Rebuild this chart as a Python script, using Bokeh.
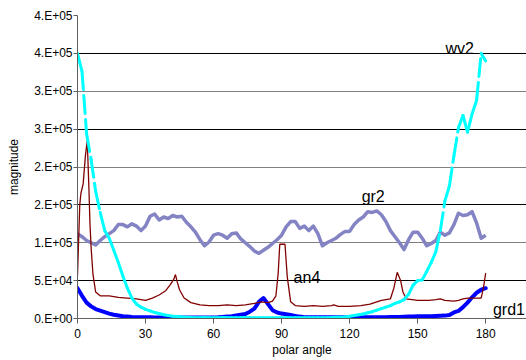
from bokeh.plotting import figure
from bokeh.models import Range1d, FixedTicker, Grid
from bokeh.core.properties import value
from bokeh.embed import file_html
from bokeh.resources import INLINE

# ---------------- data (values in thousands) ----------------
ANGLES = list(range(0, 181, 2))

WV2 = [350, 326, 244, 210, 168, 140, 116, 106, 90, 74,
       56, 40, 27, 19, 15, 12, 10, 8, 6.5, 5,
       4, 3, 2.5, 2, 1.5, 1.2, 1, 1, 1.2, 1,
       1, 1, 1.2, 1, 1, 1, 1, 1.2, 1, 1,
       1, 1, 1, 1, 1, 1, 1, 1, 1, 1,
       1, 1, 1, 1, 1, 1, 1.2, 1.5, 1.5, 2,
       3, 4, 5, 6, 7.5, 9, 11, 13, 15, 17,
       20, 22, 25, 32, 44, 50, 51, 62, 74, 88,
       116, 155, 175, 215, 252, 268, 246, 270, 288, 350,
       340]

GRD1 = [40, 30, 21, 16, 12.5, 10.5, 8.5, 6.5, 5, 4,
        3, 2.5, 2, 1.8, 1.7, 1.5, 1.5, 1.3, 1.3, 1.2,
        1.2, 1.2, 1.2, 1.2, 1.2, 1.2, 1.2, 1.2, 1.2, 1.2,
        1.3, 1.5, 2, 2.5, 3, 4, 5, 6, 9, 13,
        22, 27, 19, 11, 8, 6.5, 5.5, 4.5, 3.5, 2.5,
        1.8, 1.6, 1.5, 1.5, 1.5, 1.5, 1.5, 1.5, 1.5, 1.5,
        1.5, 1.5, 1.5, 1.5, 1.5, 1.5, 1.5, 1.5, 1.8, 2,
        2, 2, 2.2, 2.5, 2.5, 3, 3, 3, 3, 3.2,
        3.5, 3.8, 4.5, 8, 10, 15, 21, 28, 34, 38,
        40]

GR2 = [112, 108, 103, 100, 97, 103, 108, 112, 116, 124,
       124, 121, 125, 122, 116, 122, 135, 138, 130, 134,
       132, 136, 134, 135, 127, 121, 114, 104, 96, 101,
       110, 112, 110, 106, 112, 113, 105, 100, 95, 89,
       86, 90, 94, 99, 104, 110, 121, 128, 128, 119,
       122, 116, 122, 112, 96, 100, 103, 106, 111, 115,
       115, 124, 130, 134, 141, 140, 142, 137, 128, 116,
       108, 100, 91, 104, 114, 114, 106, 96, 99, 103,
       114, 110, 113, 124, 139, 136, 137, 141, 126, 106,
       110]

AN4_ANGLES = [0, 1, 1.5, 2.5, 3.5, 4.3, 5, 5.5, 6, 6.8, 8, 10, 14, 18, 22, 26, 30,
              33, 36, 39, 41, 42.5, 43.2, 44, 45, 47, 50, 54, 58, 62, 66, 70, 74,
              78, 81, 84, 86, 87.5, 88.5, 89.2, 91.5, 92.5, 94, 96, 100, 104, 108,
              112, 113, 115, 120, 125, 129, 134, 138, 139.5, 141, 142.5, 143.5, 145,
              150, 155, 158, 160, 162, 166, 168, 170, 172, 178, 179, 180]
AN4 = [57, 150, 165, 178, 215, 235, 175, 125, 94, 59, 35, 30, 30, 28, 27, 26, 24,
       27, 31, 37, 45, 52, 58, 48, 38, 27, 21, 18, 17, 17, 18, 17, 18,
       20, 22, 21, 23, 30, 60, 98, 98, 55, 22, 17, 16, 17, 16,
       17, 18, 16, 16, 17, 19, 24, 26, 40, 61, 50, 35, 26,
       24, 24, 25, 26, 24, 23, 24, 26, 27, 27, 40, 60]

SERIES_NAMES = ["wv2", "gr2", "an4", "grd1"]
LABEL_X = [162.3, 125.3, 95.3, 183.2]
LABEL_Y = [356, 161, 54, 12]   # thousands

X_TICKS = [0, 30, 60, 90, 120, 150, 180]
Y_TICKS = [0, 50000, 100000, 150000, 200000, 250000, 300000, 350000, 400000]
Y_TICK_LABELS = ["0.E+00", "5.E+04", "1.E+05", "2.E+05", "2.E+05",
                 "3.E+05", "3.E+05", "4.E+05", "4.E+05"]

K = 1000
FONT = "Liberation Sans"

p = figure(width=526, height=360, x_range=Range1d(0, 198), y_range=Range1d(0, 400000),
           output_backend="svg", toolbar_location=None,
           min_border_left=77, min_border_right=0, min_border_top=15, min_border_bottom=42)
p.outline_line_color = None
p.background_fill_color = "white"
p.border_fill_color = "white"
p.xgrid.visible = False
p.ygrid.visible = False

g_black = Grid(dimension=1, ticker=FixedTicker(ticks=Y_TICKS[1::2]),
               grid_line_color="black", grid_line_width=1)
g_gray = Grid(dimension=1, ticker=FixedTicker(ticks=Y_TICKS[2::2]),
              grid_line_color="#808080", grid_line_width=1)
p.add_layout(g_black)
p.add_layout(g_gray)

# series
p.line(ANGLES, [v * K for v in GR2], line_color="#8484c4", line_width=3.5,
       line_join="round")
p.line(ANGLES, [v * K for v in GRD1], line_color="#0000ff", line_width=4, line_join="round",
       line_cap="round")
p.line(AN4_ANGLES, [v * K for v in AN4], line_color="#800000", line_width=1.3)
p.segment(x0=ANGLES[:-1], y0=[v * K for v in WV2[:-1]],
          x1=ANGLES[1:], y1=[v * K for v in WV2[1:]],
          line_color="#00ffff", line_width=3, line_dash="18 6", line_cap="round")

p.text(x=LABEL_X, y=[v * K for v in LABEL_Y], text=SERIES_NAMES,
       text_font=value(FONT), text_font_size="16px", text_color="black",
       text_baseline="alphabetic", text_align="left")

# axes
for ax in (p.xaxis[0], p.yaxis[0]):
    ax.axis_line_color = "#606060"
    ax.major_tick_line_color = "#606060"
    ax.minor_tick_line_color = None
    ax.major_tick_in = 0
    ax.major_label_text_font = FONT
    ax.major_label_text_font_size = "12px"
    ax.major_label_text_color = "black"
    ax.axis_label_text_font = FONT
    ax.axis_label_text_font_size = "12px"
    ax.axis_label_text_font_style = "normal"
    ax.axis_label_text_color = "black"

p.xaxis.ticker = FixedTicker(ticks=X_TICKS)
p.xaxis.major_tick_out = 5
p.xaxis.major_label_standoff = 5
p.xaxis.axis_label = "polar angle"
p.xaxis.axis_label_standoff = 2

p.yaxis.ticker = FixedTicker(ticks=Y_TICKS)
p.yaxis.major_label_overrides = {t: l for t, l in zip(Y_TICKS, Y_TICK_LABELS)}
p.yaxis.major_tick_out = 4
p.yaxis.major_label_standoff = 1
p.yaxis.axis_label = "magnitude"
p.yaxis.axis_label_standoff = 10

open("out.html", "w").write(file_html(p, INLINE))
